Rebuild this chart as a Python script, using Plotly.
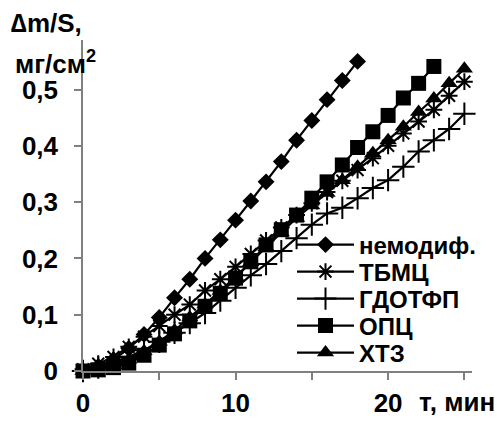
import plotly.graph_objects as go

# ---- data ----
t_nemod = list(range(0, 19))
y_nemod = [0, 0.008, 0.02, 0.04, 0.065, 0.095, 0.13, 0.163, 0.2, 0.233, 0.268,
           0.302, 0.336, 0.372, 0.41, 0.445, 0.482, 0.516, 0.55]

t_tbmc = list(range(0, 26))
y_tbmc = [0.003, 0.013, 0.025, 0.043, 0.061, 0.08, 0.1, 0.118, 0.143, 0.163, 0.185,
          0.208, 0.232, 0.255, 0.277, 0.298, 0.318, 0.338, 0.357, 0.378, 0.4,
          0.422, 0.443, 0.464, 0.489, 0.514]

t_gdotfp = list(range(0, 26))
y_gdotfp = [0, 0.006, 0.014, 0.025, 0.037, 0.052, 0.068, 0.085, 0.103, 0.125, 0.148,
            0.17, 0.19, 0.213, 0.236, 0.26, 0.28, 0.29, 0.307, 0.325, 0.339,
            0.363, 0.39, 0.41, 0.43, 0.457]

t_opc = list(range(0, 24))
y_opc = [0, 0.002, 0.006, 0.014, 0.028, 0.046, 0.066, 0.089, 0.115, 0.138, 0.165,
         0.194, 0.224, 0.251, 0.277, 0.307, 0.336, 0.366, 0.397, 0.425, 0.454,
         0.485, 0.511, 0.541]

t_htz = list(range(0, 26))
y_htz = [0, 0.004, 0.01, 0.02, 0.035, 0.052, 0.072, 0.095, 0.118, 0.142, 0.168,
         0.193, 0.22, 0.246, 0.272, 0.294, 0.316, 0.339, 0.363, 0.387, 0.41,
         0.434, 0.46, 0.484, 0.511, 0.537]

names = ["немодиф.", "ТБМЦ", "ГДОТФП", "ОПЦ", "ХТЗ"]

x_tickvals = [0, 5, 10, 15, 20, 25]
x_ticktext = ["0", "", "10", "", "20", ""]
y_tickvals = [0, 0.1, 0.2, 0.3, 0.4, 0.5]
y_ticktext = ["0", "0,1", "0,2", "0,3", "0,4", "0,5"]

FONT = "Arial, Liberation Sans, sans-serif"
fs = 26
fs_leg = 24

series = [
    (t_nemod, y_nemod, dict(symbol="diamond", size=13, color="black")),
    (t_tbmc, y_tbmc, dict(symbol="asterisk-open", size=14, color="black",
                          line=dict(color="black", width=2))),
    (t_gdotfp, y_gdotfp, dict(symbol="cross-thin-open", size=16, color="black",
                              line=dict(color="black", width=2))),
    (t_opc, y_opc, dict(symbol="square", size=15, color="black")),
    (t_htz, y_htz, dict(symbol="triangle-up", size=15, color="black")),
]

fig = go.Figure()
legend_ids = ["legend", "legend2", "legend3", "legend4", "legend5"]
for (xs, ys, mk), nm, lg in zip(series, names, legend_ids):
    fig.add_trace(go.Scatter(x=xs, y=ys, name=nm, mode="lines+markers",
                             line=dict(color="black", width=2.2), marker=mk,
                             cliponaxis=False, legend=lg))

# plot area in pixels: left 83, right 472, top 40, bottom 371
L, R, T, B = 83, 472, 40, 371
W, H = 497, 421
def px(xp):
    return (xp - L) / (R - L)
def py(yp):
    return (B - yp) / (B - T)

leg_rows = [245, 272, 299, 326, 353]
layout_legends = {}
for lg, yr in zip(legend_ids, leg_rows):
    layout_legends[lg] = dict(x=px(292), y=py(yr), xanchor="left", yanchor="middle",
                              bgcolor="rgba(0,0,0,0)", borderwidth=0,
                              font=dict(family=FONT, size=fs_leg, color="black", weight="bold"),
                              itemwidth=57, tracegroupgap=0)

axis_common = dict(showgrid=False, zeroline=False, showline=True, linecolor="#808080",
                   linewidth=1.5, ticks="outside", ticklen=7, tickcolor="#808080",
                   tickwidth=1.5, automargin=False,
                   tickfont=dict(family=FONT, size=fs, color="black", weight="bold"))

fig.update_layout(
    width=W, height=H,
    margin=dict(l=L, r=W - R, t=T, b=H - B),
    paper_bgcolor="white", plot_bgcolor="white",
    showlegend=True,
    font=dict(family=FONT, size=fs, color="black", weight="bold"),
    xaxis=dict(range=[0, 25.5], tickvals=x_tickvals, ticktext=x_ticktext,
               ticklabelstandoff=1, **axis_common),
    yaxis=dict(range=[0, 0.588], tickvals=y_tickvals, ticktext=y_ticktext,
               ticklabelstandoff=11, **axis_common),
    **layout_legends,
)

fig.add_annotation(text="∆m/S,", xref="paper", yref="paper", x=px(9), y=py(23),
                   xanchor="left", yanchor="middle", showarrow=False,
                   font=dict(family=FONT, size=fs, color="black", weight="bold"))
fig.add_annotation(text="мг/см<sup>2</sup>", xref="paper", yref="paper", x=px(13), y=py(63),
                   xanchor="left", yanchor="middle", showarrow=False,
                   font=dict(family=FONT, size=fs, color="black", weight="bold"))
fig.add_annotation(text="т, мин", xref="paper", yref="paper", x=px(417), y=py(402),
                   xanchor="left", yanchor="middle", showarrow=False,
                   font=dict(family=FONT, size=fs, color="black", weight="bold"))

fig.write_html("out.html", config={"displayModeBar": False},
               post_script="document.body.style.margin='0';")
